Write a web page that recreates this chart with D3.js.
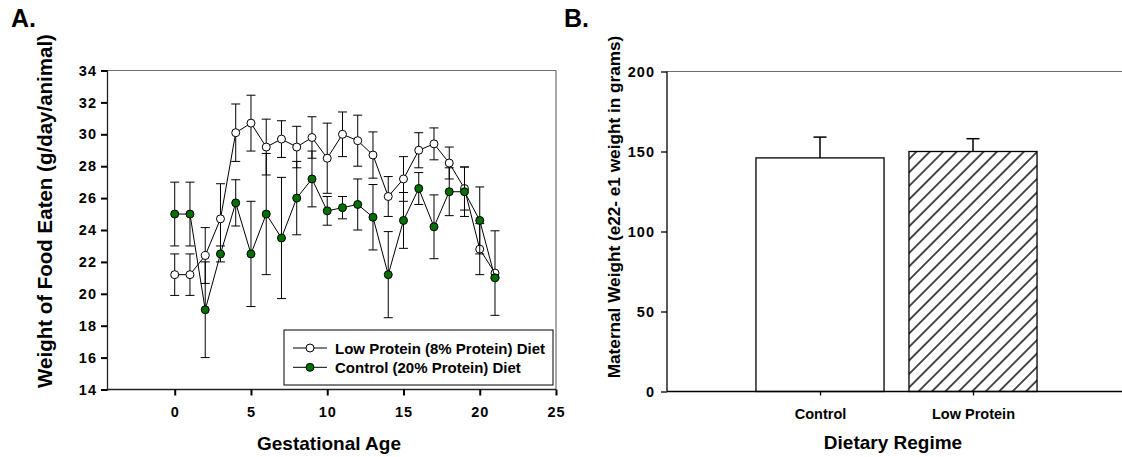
<!DOCTYPE html>
<html><head><meta charset="utf-8">
<script src="https://cdn.jsdelivr.net/npm/d3@7"></script>
<style>
html,body{margin:0;padding:0;background:#fff;}
svg{display:block;}
text{font-family:"Liberation Sans",Arial,sans-serif;font-weight:bold;fill:#000;}
</style></head>
<body>
<svg id="chart" width="1122" height="457"></svg>
<script>
// ---- Panel A data ----
const days = [0,1,2,3,4,5,6,7,8,9,10,11,12,13,14,15,16,17,18,19,20,21];
const lowProtein    = [21.2,21.2,22.4,24.7,30.1,30.7,29.2,29.7,29.2,29.8,28.5,30.0,29.6,28.7,26.1,27.2,29.0,29.4,28.2,26.6,22.8,21.3];
const lowProteinErr = [1.3,1.3,1.75,2.2,1.8,1.75,1.75,1.15,1.3,1.3,2.2,1.4,1.6,1.45,1.25,1.4,1.1,1.0,1.0,1.35,1.6,2.65];
const control       = [25.0,25.0,19.0,22.5,25.7,22.5,25.0,23.5,26.0,27.2,25.2,25.4,25.6,24.8,21.2,24.6,26.6,24.2,26.4,26.4,24.6,21.0];
const controlErr    = [2.0,2.0,3.0,0.5,1.45,3.3,3.8,3.8,2.3,1.75,0.9,0.7,1.6,2.05,2.7,1.75,1.0,2.0,1.5,1.55,2.1,0.05];
const xTicksA = [0,5,10,15,20,25];
const yTicksA = [14,16,18,20,22,24,26,28,30,32,34];
const legendLabels = ["Low Protein (8% Protein) Diet","Control (20% Protein) Diet"];

// ---- Panel B data ----
const regimes = ["Control","Low Protein"];
const maternalWeight = [146,150];
const maternalWeightErr = [13,8];
const yTicksB = [0,50,100,150,200];

const svg = d3.select("#chart");
const green = "#007000";

// ================= Panel A =================
const xA = d3.scaleLinear().domain([-4.44,25]).range([107,556]);
const yA = d3.scaleLinear().domain([14,34]).range([389.5,70.5]);
const gA = svg.append("g");

gA.append("line").attr("x1",107).attr("x2",556).attr("y1",70.5).attr("y2",70.5).attr("stroke","#6e6e6e").attr("stroke-width",1.2);
gA.append("line").attr("x1",556).attr("x2",556).attr("y1",70.5).attr("y2",389.5).attr("stroke","#6e6e6e").attr("stroke-width",1.2);

const axL = gA.append("g").attr("transform","translate(107,0)")
  .call(d3.axisLeft(yA).tickValues(yTicksA).tickSize(6).tickPadding(4).tickFormat(d3.format("d")));
const axB = gA.append("g").attr("transform","translate(0,389.5)")
  .call(d3.axisBottom(xA).tickValues(xTicksA).tickSize(6).tickPadding(11).tickFormat(d3.format("d")));
[axL,axB].forEach(a=>{
  a.select(".domain").attr("stroke","#222").attr("stroke-width",1.3);
  a.selectAll(".tick line").attr("stroke","#000").attr("stroke-width",2);
  a.selectAll("text").style("font-size","14.5px").style("font-weight","bold").attr("fill","#000").style("letter-spacing","1px");
});
axB.select(".domain").attr("d","M107,0H556");

function drawSeries(vals, errs, fill){
  const g = gA.append("g");
  const cap = 4.5;
  days.forEach((d,i)=>{
    const x = xA(d), y1 = yA(vals[i]+errs[i]), y0 = yA(vals[i]-errs[i]);
    g.append("line").attr("x1",x).attr("x2",x).attr("y1",y1).attr("y2",y0).attr("stroke","#000").attr("stroke-width",1);
    g.append("line").attr("x1",x-cap).attr("x2",x+cap).attr("y1",y1).attr("y2",y1).attr("stroke","#000").attr("stroke-width",1);
    g.append("line").attr("x1",x-cap).attr("x2",x+cap).attr("y1",y0).attr("y2",y0).attr("stroke","#000").attr("stroke-width",1);
  });
  g.append("path").datum(days.map((d,i)=>[d,vals[i]]))
    .attr("fill","none").attr("stroke","#000").attr("stroke-width",1)
    .attr("d",d3.line().x(p=>xA(p[0])).y(p=>yA(p[1])));
  g.selectAll("circle").data(days).join("circle")
    .attr("cx",d=>xA(d)).attr("cy",(d,i)=>yA(vals[i])).attr("r",4)
    .attr("fill",fill).attr("stroke","#000").attr("stroke-width",1);
}
drawSeries(lowProtein, lowProteinErr, "#fff");
drawSeries(control, controlErr, green);

// legend
const lg = gA.append("g");
lg.append("rect").attr("x",284).attr("y",330).attr("width",269).attr("height",55)
  .attr("fill","#fff").attr("stroke","#000").attr("stroke-width",1);
const legendFills = ["#fff", green];
legendLabels.forEach((t,i)=>{
  const y = 348 + i*19.3;
  lg.append("line").attr("x1",293).attr("x2",327).attr("y1",y).attr("y2",y).attr("stroke","#000").attr("stroke-width",1);
  lg.append("circle").attr("cx",310).attr("cy",y).attr("r",4).attr("fill",legendFills[i]).attr("stroke","#000");
  lg.append("text").attr("x",335).attr("y",y+5.5).style("font-size","15px").text(t);
});

gA.append("text").attr("x",11).attr("y",27).style("font-size","25px").text("A.");
gA.append("text").attr("transform","translate(52,211) rotate(-90)").attr("text-anchor","middle")
  .style("font-size","20.5px").text("Weight of Food Eaten (g/day/animal)");
gA.append("text").attr("x",329).attr("y",450).attr("text-anchor","middle").style("font-size","19px").text("Gestational Age");

// ================= Panel B =================
const xB = d3.scaleLinear().domain([0,3]).range([667,1126]);
const yB = d3.scaleLinear().domain([0,200]).range([391.5,71.5]);
const gB = svg.append("g");
const defs = svg.append("defs");
defs.append("pattern").attr("id","hatch").attr("patternUnits","userSpaceOnUse")
  .attr("width",9.5).attr("height",9.5).attr("patternTransform","rotate(-45)")
  .append("line").attr("x1",-1).attr("x2",10.5).attr("y1",4.75).attr("y2",4.75)
  .attr("stroke","#000").attr("stroke-width",1.4);

gB.append("line").attr("x1",667).attr("x2",1122).attr("y1",71.5).attr("y2",71.5).attr("stroke","#6e6e6e").attr("stroke-width",1.2);

const barW = 0.837;
const fills = ["#fff","url(#hatch)"];
regimes.forEach((r,i)=>{
  const c = i+1, x = xB(c);
  const top = yB(maternalWeight[i]+maternalWeightErr[i]);
  gB.append("line").attr("x1",x).attr("x2",x).attr("y1",yB(maternalWeight[i])).attr("y2",top)
    .attr("stroke","#000").attr("stroke-width",1.5);
  gB.append("line").attr("x1",x-6.5).attr("x2",x+6.5).attr("y1",top).attr("y2",top)
    .attr("stroke","#000").attr("stroke-width",1.5);
  gB.append("rect").attr("x",xB(c-barW/2)).attr("width",xB(c+barW/2)-xB(c-barW/2))
    .attr("y",yB(maternalWeight[i])).attr("height",yB(0)-yB(maternalWeight[i]))
    .attr("fill",fills[i]).attr("stroke","#000").attr("stroke-width",1.3);
});

const bL = gB.append("g").attr("transform","translate(667,0)")
  .call(d3.axisLeft(yB).tickValues(yTicksB).tickSize(6).tickPadding(6).tickFormat(d3.format("d")));
const bB = gB.append("g").attr("transform","translate(0,391.5)")
  .call(d3.axisBottom(xB).tickValues([1,2]).tickSize(4).tickPadding(13).tickFormat(d=>regimes[d-1]));
[bL,bB].forEach(a=>{
  a.select(".domain").attr("stroke","#000").attr("stroke-width",1.3);
  a.selectAll(".tick line").attr("stroke","#000").attr("stroke-width",1.3);
  a.selectAll("text").style("font-weight","bold").attr("fill","#000");
});
bL.selectAll("text").style("font-size","14.5px").style("letter-spacing","1px");
bB.selectAll("text").style("font-size","14.5px");
bB.select(".domain").attr("d","M667,0H1122");
bL.select(".domain").attr("d","M0,391.5V71.5");

gB.append("text").attr("x",564).attr("y",27).style("font-size","25px").text("B.");
gB.append("text").attr("transform","translate(620,207) rotate(-90)").attr("text-anchor","middle")
  .style("font-size","17.2px").text("Maternal Weight (e22- e1 weight in grams)");
gB.append("text").attr("x",893).attr("y",449).attr("text-anchor","middle").style("font-size","19px").text("Dietary Regime");
</script>
</body></html>
